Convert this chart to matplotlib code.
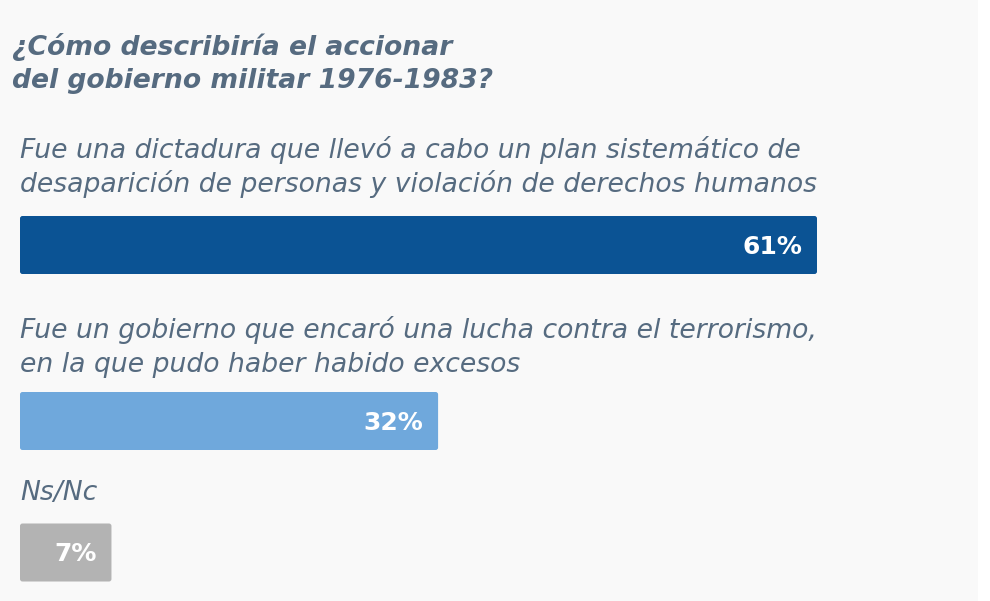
import matplotlib.pyplot as plt
from matplotlib.patches import FancyBboxPatch

# ------------------------------
# Data
# ------------------------------
title = '¿Cómo describiría el accionar\ndel gobierno militar 1976-1983?'
labels = [
    'Fue una dictadura que llevó a cabo un plan sistemático de\n'
    'desaparición de personas y violación de derechos humanos',
    'Fue un gobierno que encaró una lucha contra el terrorismo,\n'
    'en la que pudo haber habido excesos',
    'Ns/Nc',
]
values = [61, 32, 7]
colors = ['#0b5394', '#6fa8dc', '#b3b3b3']

# ------------------------------
# Layout (pixel units on y, percent on x)
# ------------------------------
W, H = 990, 601
bar_centers = [245, 421, 552.5]
bar_height = 58
label_baselines = [158.5, 338, 500.5]
line_step = 33.5
px_per_pct = 797 / 61.0
x0, x1 = 20, 978
text_color = '#566b80'

fig = plt.figure(figsize=(W / 100, H / 100), dpi=100)
fig.patch.set_facecolor('white')
bg = fig.add_axes([0, 0, x1 / W, 1])
bg.axis('off')
bg.add_patch(plt.Rectangle((0, 0), 1, 1, transform=bg.transAxes, color='#f9f9f9', zorder=0))

ax = fig.add_axes([x0 / W, 0, (x1 - x0) / W, 1])
ax.set_facecolor('none')
ax.set_xlim(0, (x1 - x0) / px_per_pct)
ax.set_ylim(H, 0)
ax.axis('off')

bars = ax.barh(bar_centers, values, height=bar_height, color=colors, left=0)

# swap the plain rectangles for slightly rounded ones
r = 2.5 / px_per_pct
for rect in bars:
    x, y = rect.get_x(), rect.get_y()
    w, h = rect.get_width(), rect.get_height()
    rect.set_visible(False)
    ax.add_patch(FancyBboxPatch((x, y), w, h,
                                boxstyle=f'round,pad=0,rounding_size={r}',
                                mutation_aspect=px_per_pct,
                                facecolor=rect.get_facecolor(), edgecolor='none'))

for yc, v in zip(bar_centers, values):
    ax.text(v - 15 / px_per_pct, yc + 8.5, f'{v}%', ha='right', va='baseline',
            fontsize=18, fontweight='bold', color='white', family='DejaVu Sans')

for yb, lab in zip(label_baselines, labels):
    for i, line in enumerate(lab.split('\n')):
        ax.text(0, yb + i * line_step, line, ha='left', va='baseline',
                fontsize=19.2, style='italic', color=text_color,
                family='DejaVu Sans')

for i, line in enumerate(title.split('\n')):
    ax.text(-8 / px_per_pct, 55 + i * 33, line, ha='left', va='baseline',
            fontsize=19.2, style='italic', fontweight='bold', color=text_color,
            family='DejaVu Sans')

plt.savefig('out.png', dpi=100, facecolor=fig.get_facecolor())
